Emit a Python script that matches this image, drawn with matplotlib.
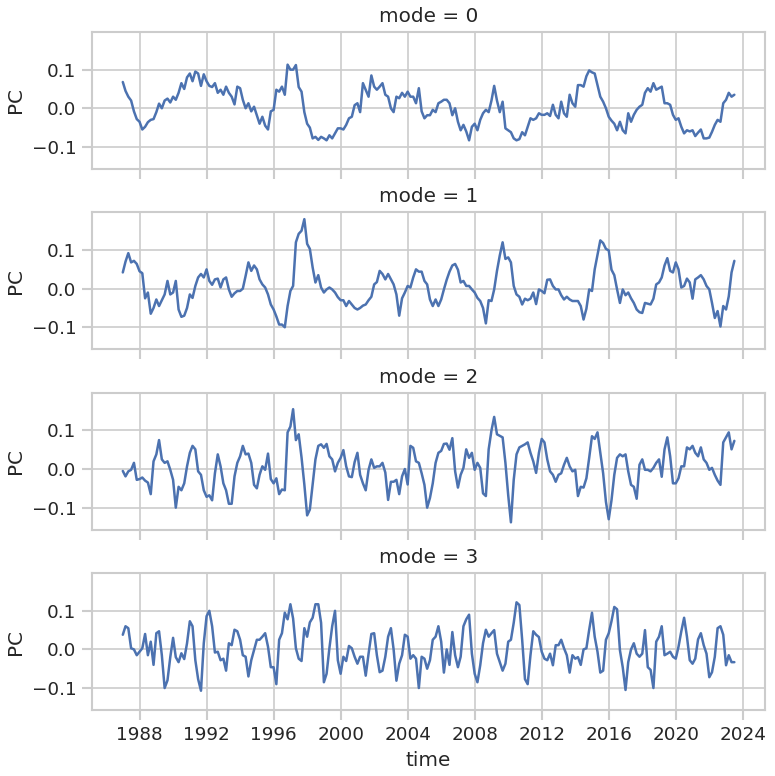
import numpy as np
import pandas as pd
import matplotlib
matplotlib.use("Agg")
import matplotlib.pyplot as plt
import matplotlib.dates as mdates
import seaborn as sns

# ---- data (bi-monthly samples, Jan 1987 .. Jul 2023) ----
start_date = "1987-01-01"
n_points = 220
modes = [0, 1, 2, 3]

pc_mode0 = [
    0.068, 0.045, 0.03, 0.02, -0.008, -0.028,
    -0.035, -0.055, -0.048, -0.036, -0.03, -0.028,
    -0.01, 0.012, 0.0, 0.02, 0.025, 0.015,
    0.03, 0.022, 0.04, 0.065, 0.05, 0.08,
    0.09, 0.07, 0.095, 0.09, 0.058, 0.088,
    0.07, 0.058, 0.055, 0.065, 0.04, 0.048,
    0.035, 0.056, 0.04, 0.03, 0.01, 0.056,
    0.052, 0.022, 0.0, 0.013, -0.008, 0.004,
    -0.018, -0.04, -0.022, -0.045, -0.055, -0.008,
    -0.004, 0.048, 0.043, 0.056, 0.035, 0.113,
    0.1, 0.1, 0.112, 0.055, 0.043, -0.01,
    -0.04, -0.05, -0.078, -0.074, -0.082, -0.074,
    -0.078, -0.083, -0.07, -0.078, -0.065, -0.052,
    -0.052, -0.055, -0.043, -0.026, -0.022, 0.008,
    0.013, -0.01, 0.065, 0.048, 0.03, 0.085,
    0.056, 0.048, 0.056, 0.065, 0.035, 0.03,
    0.0, -0.01, 0.03, 0.026, 0.04, 0.03,
    0.043, 0.03, 0.03, 0.013, 0.052, -0.008,
    -0.026, -0.018, -0.018, -0.004, -0.01, 0.013,
    0.017, 0.022, 0.022, 0.013, -0.018, 0.0,
    -0.035, -0.057, -0.043, -0.06, -0.083, -0.048,
    -0.04, -0.057, -0.03, -0.013, -0.004, -0.01,
    0.02, 0.058, 0.02, -0.01, 0.017, -0.052,
    -0.057, -0.062, -0.078, -0.083, -0.08, -0.062,
    -0.07, -0.048, -0.026, -0.03, -0.026, -0.013,
    -0.017, -0.017, -0.013, -0.02, 0.009, -0.017,
    -0.026, 0.017, -0.013, -0.022, 0.035, 0.013,
    0.004, 0.06, 0.06, 0.056, 0.083, 0.098,
    0.093, 0.09, 0.06, 0.03, 0.017, 0.0,
    -0.022, -0.032, -0.04, -0.057, -0.035, -0.057,
    -0.065, -0.013, -0.035, -0.017, -0.004, 0.004,
    0.009, 0.04, 0.052, 0.043, 0.065, 0.048,
    0.052, 0.056, 0.013, 0.013, 0.009, -0.017,
    -0.03, -0.026, -0.048, -0.065, -0.057, -0.06,
    -0.057, -0.072, -0.063, -0.055, -0.078, -0.078,
    -0.076, -0.061, -0.043, -0.03, -0.035, 0.013,
    0.022, 0.04, 0.03, 0.035,
]

pc_mode1 = [
    0.042, 0.07, 0.092, 0.068, 0.072, 0.064,
    0.045, 0.04, -0.025, -0.01, -0.065, -0.05,
    -0.028, -0.045, -0.03, -0.015, 0.02, -0.015,
    -0.01, 0.02, -0.054, -0.073, -0.07, -0.05,
    -0.015, -0.024, 0.007, 0.029, 0.038, 0.029,
    0.05, 0.02, 0.01, 0.024, 0.026, 0.003,
    0.024, 0.029, -0.002, -0.021, -0.012, -0.006,
    -0.006, 0.0, 0.033, 0.068, 0.046, 0.06,
    0.05, 0.024, 0.011, 0.003, -0.015, -0.041,
    -0.054, -0.072, -0.093, -0.093, -0.1, -0.045,
    -0.006, 0.007, 0.12, 0.142, 0.15, 0.18,
    0.116, 0.103, 0.055, 0.016, 0.035, 0.003,
    -0.01, -0.002, 0.003, -0.002, -0.01, -0.022,
    -0.03, -0.03, -0.045, -0.032, -0.041, -0.05,
    -0.054, -0.05, -0.044, -0.041, -0.03, -0.021,
    0.011, 0.017, 0.046, 0.038, 0.024, 0.038,
    0.024, 0.011, -0.015, -0.07, -0.025, -0.01,
    0.007, 0.003, 0.029, 0.05, 0.044, 0.044,
    0.02, 0.011, -0.028, -0.045, -0.028, -0.045,
    -0.028, -0.002, 0.023, 0.044, 0.06, 0.064,
    0.049, 0.016, 0.02, 0.007, 0.007, -0.002,
    -0.01, -0.024, -0.032, -0.05, -0.09, -0.03,
    -0.032, -0.002, 0.046, 0.086, 0.12, 0.077,
    0.081, 0.068, 0.007, -0.015, -0.021, -0.041,
    -0.026, -0.03, -0.026, -0.01, -0.04, -0.002,
    -0.006, -0.012, 0.023, 0.024, 0.007, -0.002,
    -0.002, -0.017, -0.028, -0.021, -0.028, -0.032,
    -0.032, -0.032, -0.045, -0.08, -0.052, -0.002,
    -0.006, 0.05, 0.087, 0.125, 0.118, 0.103,
    0.099, 0.049, 0.035, -0.002, -0.037, -0.002,
    -0.017, -0.01, -0.025, -0.037, -0.054, -0.061,
    -0.063, -0.037, -0.039, -0.041, -0.026, 0.011,
    0.016, 0.029, 0.06, 0.079, 0.046, 0.042,
    0.068, 0.05, 0.003, 0.007, 0.026, 0.016,
    -0.026, 0.024, 0.029, 0.035, 0.024, 0.007,
    -0.002, -0.037, -0.076, -0.058, -0.098, -0.045,
    -0.054, -0.02, 0.042, 0.072,
]

pc_mode2 = [
    -0.005, -0.019, -0.006, -0.002, 0.016, -0.028,
    -0.026, -0.022, -0.03, -0.035, -0.065, 0.02,
    0.038, 0.075, 0.025, 0.016, 0.02, -0.002,
    -0.028, -0.1, -0.046, -0.055, -0.037, 0.007,
    0.042, 0.06, 0.051, -0.006, -0.015, -0.055,
    -0.072, -0.068, -0.081, -0.011, 0.038, 0.007,
    -0.037, -0.055, -0.09, -0.09, -0.019, 0.016,
    0.033, 0.06, 0.038, 0.04, 0.016, -0.041,
    -0.05, -0.015, 0.007, -0.002, 0.04, -0.026,
    -0.037, -0.024, -0.065, -0.053, -0.055, 0.095,
    0.11, 0.155, 0.075, 0.09, 0.03, -0.04,
    -0.12, -0.105, -0.041, 0.025, 0.06, 0.064,
    0.055, 0.065, 0.033, 0.025, -0.006, 0.016,
    0.029, 0.049, 0.007, -0.019, -0.021, 0.018,
    0.042, -0.015, -0.037, -0.055, -0.002, 0.025,
    0.003, 0.007, 0.007, 0.016, -0.009, -0.08,
    -0.033, -0.033, -0.028, -0.065, -0.019, 0.0,
    -0.04, 0.06, 0.055, 0.02, 0.016, -0.011,
    -0.041, -0.1, -0.075, -0.037, 0.016, 0.042,
    0.047, 0.065, 0.066, 0.05, 0.08, -0.006,
    -0.048, -0.015, 0.003, 0.051, 0.029, 0.042,
    -0.002, 0.016, 0.003, -0.063, -0.07, 0.051,
    0.1, 0.135, 0.09, 0.086, 0.082, 0.016,
    -0.068, -0.138, -0.028, 0.038, 0.056, 0.06,
    0.064, 0.069, 0.042, 0.02, -0.01, 0.042,
    0.078, 0.069, 0.025, -0.006, -0.015, -0.033,
    -0.015, -0.011, 0.011, 0.029, 0.007, -0.006,
    -0.002, -0.07, -0.046, -0.048, -0.024, 0.029,
    0.085, 0.078, 0.095, 0.042, -0.011, -0.085,
    -0.13, -0.081, -0.015, 0.029, 0.038, 0.033,
    0.038, -0.006, -0.041, -0.046, -0.077, 0.011,
    0.025, -0.002, -0.002, -0.006, 0.003, 0.016,
    0.025, -0.02, 0.051, 0.082, 0.033, -0.037,
    -0.037, -0.024, 0.007, 0.007, 0.056, 0.051,
    0.06, 0.042, 0.033, 0.056, 0.025, 0.016,
    -0.002, 0.003, -0.015, -0.03, -0.041, 0.069,
    0.082, 0.095, 0.051, 0.073,
]

pc_mode3 = [
    0.038, 0.06, 0.055, 0.003, 0.0, -0.015,
    -0.006, 0.003, 0.04, -0.015, 0.02, -0.04,
    0.042, 0.047, -0.015, -0.1, -0.08, -0.02,
    0.03, -0.02, -0.033, -0.01, -0.025, 0.016,
    0.073, 0.06, -0.028, -0.077, -0.107, 0.016,
    0.086, 0.1, 0.06, -0.008, -0.006, -0.028,
    -0.024, -0.055, 0.016, 0.011, 0.051, 0.047,
    0.025, -0.015, -0.019, -0.07, -0.028, -0.002,
    0.025, 0.025, 0.033, 0.042, 0.007, -0.046,
    -0.046, -0.09, 0.025, 0.042, 0.095, 0.078,
    0.117, 0.08, 0.003, -0.024, -0.03, 0.055,
    0.033, 0.07, 0.082, 0.117, 0.117, 0.069,
    -0.085, -0.063, 0.003, 0.06, 0.1, -0.028,
    -0.063, -0.019, -0.03, 0.009, 0.003, -0.019,
    -0.037, -0.019, -0.019, -0.068, -0.011, 0.04,
    0.042, -0.015, -0.059, -0.055, -0.019, 0.033,
    0.055, 0.0, -0.081, -0.037, -0.015, 0.038,
    0.033, -0.024, -0.015, -0.024, -0.1, -0.019,
    -0.024, -0.05, -0.028, 0.025, 0.033, 0.06,
    0.02, -0.06, 0.0, -0.04, 0.045, -0.015,
    -0.046, -0.019, 0.06, 0.078, 0.09, -0.011,
    -0.063, -0.085, -0.041, 0.016, 0.051, 0.033,
    0.042, 0.05, -0.011, -0.033, -0.055, -0.037,
    0.02, 0.025, 0.069, 0.122, 0.115, 0.025,
    -0.077, -0.09, -0.015, 0.047, 0.038, 0.032,
    -0.006, -0.024, -0.028, -0.011, -0.041, 0.011,
    0.011, 0.025, 0.003, -0.015, -0.06, -0.015,
    -0.024, -0.02, -0.04, 0.0, 0.003, 0.051,
    0.095, 0.033, -0.006, -0.06, -0.055, 0.025,
    0.042, 0.073, 0.11, 0.104, -0.002, -0.046,
    -0.105, -0.033, 0.0, 0.016, -0.011, -0.019,
    -0.011, 0.05, -0.046, -0.053, -0.1, 0.02,
    0.033, 0.06, -0.015, -0.011, -0.006, -0.019,
    -0.024, 0.007, 0.047, 0.082, 0.033, -0.028,
    -0.037, -0.024, 0.026, 0.042, 0.011, -0.011,
    -0.072, -0.059, -0.019, 0.055, 0.06, 0.038,
    -0.041, -0.015, -0.033, -0.033,
]

series = [pc_mode0, pc_mode1, pc_mode2, pc_mode3]
time = pd.date_range(start_date, periods=n_points, freq="2MS")

# ---- style ----
sns.set_theme(style="whitegrid", context="notebook")
plt.rcParams["font.family"] = ["DejaVu Sans"]
plt.rcParams["xtick.bottom"] = True
plt.rcParams["ytick.left"] = True
plt.rcParams["xtick.color"] = "0.8"
plt.rcParams["ytick.color"] = "0.8"
plt.rcParams["xtick.labelcolor"] = "0.15"
plt.rcParams["ytick.labelcolor"] = "0.15"

DPI = 120
fig, axes = plt.subplots(4, 1, figsize=(775 / DPI, 776 / DPI), dpi=DPI,
                         sharex=True, sharey=True)
fig.subplots_adjust(left=0.119, right=0.987, top=0.959, bottom=0.085, hspace=0.316)

color = sns.color_palette("deep")[0]
for ax, mode, vals in zip(axes, modes, series):
    ax.plot(time, vals, color=color, lw=1.5)
    ax.set_title(f"mode = {mode}")
    ax.set_ylabel("PC")
    ax.set_ylim(-0.157, 0.198)
    ax.set_yticks([-0.1, 0.0, 0.1])

axes[-1].xaxis.set_major_locator(mdates.YearLocator(4))
axes[-1].xaxis.set_major_formatter(mdates.DateFormatter("%Y"))
axes[-1].set_xlabel("time")

fig.savefig("out.png", dpi=DPI)
